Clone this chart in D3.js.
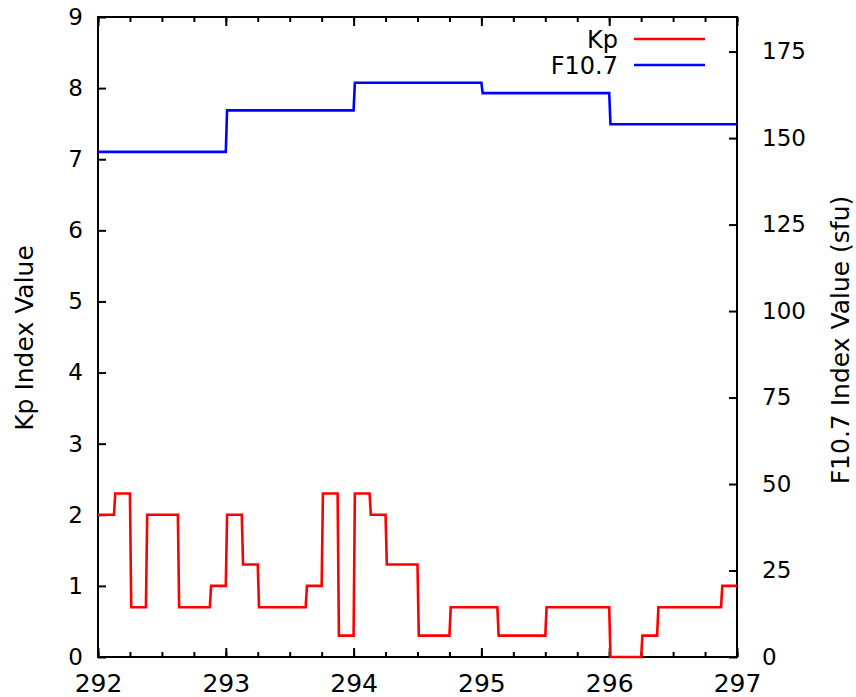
<!DOCTYPE html>
<html>
<head>
<meta charset="utf-8">
<script src="https://cdn.jsdelivr.net/npm/d3@7"></script>
<style>
  body { margin: 0; background: #fff; }
  svg { display: block; }
  .axis text { font-family: "DejaVu Sans", sans-serif; fill: #000; }
  .axis line { stroke: #000; stroke-width: 2px; }
  .axis path { display: none; }
  .title { font-family: "DejaVu Sans", sans-serif; font-size: 25px; fill: #000; }
</style>
</head>
<body>
<svg id="chart" width="856" height="697"></svg>
<script>
// day of year (3-hourly Kp, daily F10.7)
const kpStartDay = 292
const kpStep = 0.125
const kpValues = [
  2.0, 2.3, 0.7, 2.0, 2.0, 0.7, 0.7, 1.0, // 292
  2.0, 1.3, 0.7, 0.7, 0.7, 1.0, 2.3, 0.3, // 293
  2.3, 2.0, 1.3, 1.3, 0.3, 0.3, 0.7, 0.7, // 294
  0.7, 0.3, 0.3, 0.3, 0.7, 0.7, 0.7, 0.7, // 295
  0.0, 0.0, 0.3, 0.7, 0.7, 0.7, 0.7, 1.0  // 296
]
const f107Days = [292, 293, 294, 295, 296]
const f107Values = [146, 158, 166, 163, 154]

const xTicks = [292, 293, 294, 295, 296, 297]
const xMinorTicks = d3.range(292, 297.001, 0.25)
const kpTicks = [0, 1, 2, 3, 4, 5, 6, 7, 8, 9]
const f107Ticks = [0, 25, 50, 75, 100, 125, 150, 175]

const plotLeft = 98
const plotRight = 737
const plotTop = 17
const plotBottom = 657

const svg = d3.select('#chart')

const x = d3.scaleLinear().domain([292, 297]).range([plotLeft, plotRight])
const y = d3.scaleLinear().domain([0, 9]).range([plotBottom, plotTop])
const y2 = d3.scaleLinear().domain([0, 185]).range([plotBottom, plotTop])

// build step outline: flat over each interval, short ramp into the next one
function stepPoints (starts, widths, values) {
  const eps = 0.01
  const pts = []
  values.forEach((v, i) => {
    const t = starts[i]
    pts.push([i === 0 ? t : t + eps, v])
    pts.push([t + widths[i], v])
  })
  return pts
}

const kpStarts = kpValues.map((d, i) => kpStartDay + i * kpStep)
const kpPts = stepPoints(kpStarts, kpValues.map(() => kpStep), kpValues)
const f107Pts = stepPoints(f107Days, f107Days.map(() => 1), f107Values)

// axes
svg.append('g')
  .attr('class', 'axis')
  .attr('transform', `translate(0,${plotBottom})`)
  .call(d3.axisBottom(x).tickValues(xMinorTicks).tickSize(-5).tickFormat(''))

svg.append('g')
  .attr('class', 'axis')
  .attr('transform', `translate(0,${plotTop})`)
  .call(d3.axisTop(x).tickValues(xMinorTicks).tickSize(-5).tickFormat(''))

svg.append('g')
  .attr('class', 'axis')
  .attr('transform', `translate(0,${plotTop})`)
  .call(d3.axisTop(x).tickValues(xTicks).tickSize(-9).tickFormat(''))

svg.append('g')
  .attr('class', 'axis')
  .attr('transform', `translate(0,${plotBottom})`)
  .call(d3.axisBottom(x).tickValues(xTicks).tickSize(-9).tickPadding(17.5).tickFormat(d3.format('d')))
  .selectAll('text').style('font-size', '25px')

svg.append('g')
  .attr('class', 'axis')
  .attr('transform', `translate(${plotLeft},0)`)
  .call(d3.axisLeft(y).tickValues(kpTicks).tickSize(-8).tickPadding(15).tickFormat(d3.format('d')))
  .selectAll('text').style('font-size', '23px')

svg.append('g')
  .attr('class', 'axis')
  .attr('transform', `translate(${plotRight},0)`)
  .call(d3.axisRight(y2).tickValues(f107Ticks).tickSize(-8).tickPadding(25).tickFormat(d3.format('d')))
  .selectAll('text').style('font-size', '23px')

// frame
svg.append('rect')
  .attr('x', plotLeft)
  .attr('y', plotTop)
  .attr('width', plotRight - plotLeft)
  .attr('height', plotBottom - plotTop)
  .attr('fill', 'none')
  .attr('stroke', '#000')
  .attr('stroke-width', 2)

// lines
const kpLine = d3.line().x(d => x(d[0])).y(d => y(d[1]))
const f107Line = d3.line().x(d => x(d[0])).y(d => y2(d[1]))

svg.append('path')
  .attr('d', kpLine(kpPts))
  .attr('fill', 'none')
  .attr('stroke', '#ff0000')
  .attr('stroke-width', 2.6)

svg.append('path')
  .attr('d', f107Line(f107Pts))
  .attr('fill', 'none')
  .attr('stroke', '#0000ff')
  .attr('stroke-width', 2.6)

// axis titles
svg.append('text')
  .attr('class', 'title')
  .attr('transform', 'translate(33,338) rotate(-90)')
  .attr('text-anchor', 'middle')
  .text('Kp Index Value')

svg.append('text')
  .attr('class', 'title')
  .attr('transform', 'translate(849,340) rotate(-90)')
  .attr('text-anchor', 'middle')
  .text('F10.7 Index Value (sfu)')

// legend
const legend = [
  { name: 'Kp', color: '#ff0000', y: 39 },
  { name: 'F10.7', color: '#0000ff', y: 65 }
]
const lg = svg.append('g')
lg.selectAll('text')
  .data(legend)
  .join('text')
  .attr('class', 'title')
  .style('font-size', '24px')
  .attr('x', 618)
  .attr('y', d => d.y)
  .attr('dy', '0.36em')
  .attr('text-anchor', 'end')
  .text(d => d.name)
lg.selectAll('line')
  .data(legend)
  .join('line')
  .attr('x1', 634)
  .attr('x2', 705)
  .attr('y1', d => d.y)
  .attr('y2', d => d.y)
  .attr('stroke', d => d.color)
  .attr('stroke-width', 2.6)
</script>
</body>
</html>
